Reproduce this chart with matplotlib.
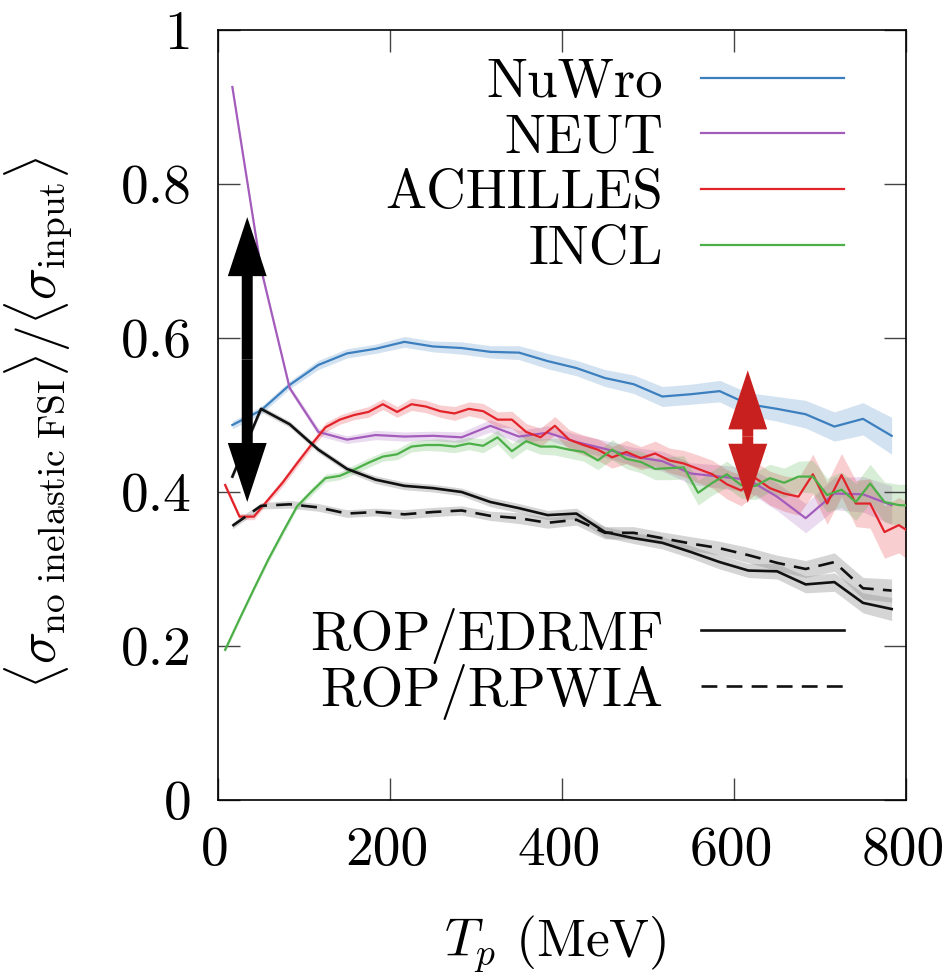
import numpy as np
import matplotlib
matplotlib.use("Agg")
import matplotlib.pyplot as plt
import matplotlib.transforms as mtransforms
from matplotlib.patches import FancyArrowPatch, ArrowStyle

plt.rcParams['font.family'] = ['cmr10', 'DejaVu Serif']
plt.rcParams['mathtext.fontset'] = 'cm'
plt.rcParams['axes.unicode_minus'] = False
plt.rcParams['axes.formatter.use_mathtext'] = True

# ---- data ----
# coarse binning (33.3 MeV bins)
x_coarse = [16.7, 50.0, 83.3, 116.7, 150.0, 183.3, 216.7, 250.0, 283.3, 316.7, 350.0, 383.3,
            416.7, 450.0, 483.3, 516.7, 550.0, 583.3, 616.7, 650.0, 683.3, 716.7, 750.0, 783.3]
# fine binning (16.7 MeV bins)
x_fine = [8.3, 25.0, 41.7, 58.3, 75.0, 91.7, 108.3, 125.0, 141.7, 158.3, 175.0, 191.7,
          208.3, 225.0, 241.7, 258.3, 275.0, 291.7, 308.3, 325.0, 341.7, 358.3, 375.0, 391.7,
          408.3, 425.0, 441.7, 458.3, 475.0, 491.7, 508.3, 525.0, 541.7, 558.3, 575.0, 591.7,
          608.3, 625.0, 641.7, 658.3, 675.0, 691.7, 708.3, 725.0, 741.7, 758.3, 775.0, 791.7, 808.3]

nuwro = [0.487, 0.506, 0.539, 0.565, 0.580, 0.586, 0.595, 0.589, 0.587, 0.582, 0.581, 0.570,
         0.561, 0.548, 0.540, 0.524, 0.527, 0.531, 0.514, 0.508, 0.501, 0.485, 0.495, 0.473]
nuwro_err = [0.005, 0.005, 0.005, 0.006, 0.006, 0.006, 0.007, 0.007, 0.008, 0.008, 0.009, 0.010,
             0.010, 0.011, 0.012, 0.013, 0.013, 0.014, 0.015, 0.016, 0.018, 0.019, 0.021, 0.024]

neut = [0.926, 0.690, 0.535, 0.478, 0.468, 0.474, 0.472, 0.473, 0.471, 0.486, 0.472, 0.477,
        0.465, 0.456, 0.446, 0.440, 0.424, 0.420, 0.416, 0.394, 0.366, 0.398, 0.397, 0.383]
neut_err = [0.003, 0.004, 0.004, 0.005, 0.005, 0.006, 0.006, 0.006, 0.007, 0.008, 0.008, 0.009,
            0.010, 0.011, 0.012, 0.013, 0.014, 0.015, 0.016, 0.018, 0.019, 0.021, 0.023, 0.025]

achilles = [0.409, 0.368, 0.368, 0.390, 0.412, 0.437, 0.461, 0.484, 0.494, 0.500, 0.504, 0.514,
            0.504, 0.514, 0.511, 0.505, 0.502, 0.508, 0.505, 0.494, 0.494, 0.478, 0.471, 0.486,
            0.468, 0.461, 0.455, 0.445, 0.452, 0.444, 0.450, 0.441, 0.437, 0.430, 0.423, 0.410,
            0.402, 0.418, 0.405, 0.398, 0.394, 0.423, 0.385, 0.422, 0.385, 0.385, 0.348, 0.357, 0.345]
achilles_err = [0.004, 0.004, 0.004, 0.004, 0.005, 0.005, 0.005, 0.006, 0.006, 0.006, 0.007, 0.007,
                0.007, 0.008, 0.008, 0.008, 0.009, 0.009, 0.010, 0.010, 0.011, 0.011, 0.012, 0.012,
                0.013, 0.013, 0.014, 0.014, 0.015, 0.015, 0.016, 0.016, 0.017, 0.018, 0.018, 0.019,
                0.020, 0.021, 0.022, 0.023, 0.024, 0.026, 0.027, 0.028, 0.030, 0.032, 0.034, 0.036, 0.038]

incl = [0.195, 0.235, 0.274, 0.312, 0.347, 0.381, 0.400, 0.418, 0.421, 0.429, 0.438, 0.446,
        0.449, 0.459, 0.461, 0.461, 0.459, 0.463, 0.460, 0.471, 0.453, 0.466, 0.459, 0.459,
        0.455, 0.452, 0.441, 0.455, 0.443, 0.439, 0.430, 0.431, 0.432, 0.399, 0.412, 0.423,
        0.409, 0.408, 0.418, 0.412, 0.420, 0.420, 0.396, 0.403, 0.387, 0.411, 0.387, 0.383, 0.382]
incl_err = [0.003, 0.003, 0.003, 0.004, 0.004, 0.004, 0.005, 0.005, 0.005, 0.006, 0.006, 0.006,
            0.007, 0.007, 0.007, 0.008, 0.008, 0.008, 0.009, 0.009, 0.010, 0.010, 0.010, 0.011,
            0.011, 0.012, 0.012, 0.013, 0.013, 0.014, 0.014, 0.015, 0.015, 0.016, 0.016, 0.017,
            0.017, 0.018, 0.018, 0.019, 0.020, 0.021, 0.022, 0.023, 0.024, 0.025, 0.026, 0.027, 0.028]

rop_edrmf = [0.420, 0.508, 0.488, 0.455, 0.430, 0.416, 0.408, 0.405, 0.400, 0.387, 0.379, 0.370,
             0.372, 0.348, 0.340, 0.334, 0.322, 0.309, 0.298, 0.297, 0.280, 0.283, 0.256, 0.248]
rop_edrmf_err = [0.004, 0.004, 0.004, 0.004, 0.004, 0.005, 0.005, 0.005, 0.005, 0.006, 0.006, 0.006,
                 0.007, 0.007, 0.007, 0.008, 0.008, 0.009, 0.009, 0.010, 0.011, 0.012, 0.013, 0.015]

rop_rpwia = [0.356, 0.382, 0.384, 0.380, 0.372, 0.374, 0.371, 0.374, 0.376, 0.369, 0.366, 0.360,
             0.364, 0.347, 0.347, 0.340, 0.333, 0.327, 0.318, 0.308, 0.300, 0.309, 0.275, 0.272]
rop_rpwia_err = [0.004, 0.004, 0.005, 0.005, 0.005, 0.005, 0.006, 0.006, 0.006, 0.006, 0.007, 0.007,
                 0.007, 0.008, 0.008, 0.008, 0.009, 0.009, 0.010, 0.010, 0.011, 0.012, 0.014, 0.015]

labels_models = ["NuWro", "NEUT", "ACHILLES", "INCL"]
labels_rop = ["ROP/EDRMF", "ROP/RPWIA"]
x_ticks = [0, 200, 400, 600, 800]
y_ticks = [0, 0.2, 0.4, 0.6, 0.8, 1.0]
y_ticklabels = ["0", "0.2", "0.4", "0.6", "0.8", "1"]

# arrows (x position, bottom tip, top tip)
black_arrow = (34.0, 0.387, 0.757)
red_arrow = (616.0, 0.386, 0.558)

# ---- styling ----
c_blue = "#3b7fbf"
c_purple = "#a45cbc"
c_red = "#e3232a"
c_green = "#4caf48"
c_black = "#111111"
c_band_black = "#888888"

FS_TICK = 40
FS_LEG = 39.5
FS_LAB = 38.5

fig = plt.figure(figsize=(9.45, 9.72), dpi=100)
ax = fig.add_axes([218/945, 1 - 800/972, (906-218)/945, (800-30)/972])

def band(x, y, e, col, alpha):
    y = np.asarray(y); e = np.asarray(e)
    ax.fill_between(x, y - e, y + e, color=col, alpha=alpha, lw=0, zorder=1)

band(x_coarse, nuwro, nuwro_err, c_blue, 0.22)
band(x_coarse, neut, neut_err, c_purple, 0.22)
band(x_fine, achilles, achilles_err, c_red, 0.22)
band(x_fine, incl, incl_err, c_green, 0.22)
band(x_coarse, rop_edrmf, rop_edrmf_err, c_band_black, 0.35)
band(x_coarse, rop_rpwia, rop_rpwia_err, c_band_black, 0.35)

lw = 1.6
h1, = ax.plot(x_coarse, nuwro, color=c_blue, lw=lw, zorder=3)
h2, = ax.plot(x_coarse, neut, color=c_purple, lw=lw, zorder=3)
h3, = ax.plot(x_fine, achilles, color=c_red, lw=lw, zorder=3)
h4, = ax.plot(x_fine, incl, color=c_green, lw=lw, zorder=3)
h5, = ax.plot(x_coarse, rop_edrmf, color=c_black, lw=1.9, zorder=3)
h6, = ax.plot(x_coarse, rop_rpwia, color=c_black, lw=1.9, ls=(0, (6, 3.5)), zorder=3)

ax.set_xlim(0, 800)
ax.set_ylim(0, 1)
ax.set_xticks(x_ticks)
ax.set_xticklabels([str(t) for t in x_ticks])
ax.set_yticks(y_ticks)
ax.set_yticklabels(y_ticklabels)
ax.tick_params(direction="in", length=16, width=1.0, color="#444444", top=True, right=True,
               labelsize=FS_TICK)
ax.tick_params(axis="x", pad=19)
ax.tick_params(axis="y", pad=19)
shift = mtransforms.ScaledTranslation(-3/100, 0, fig.dpi_scale_trans)
for lab in ax.get_xticklabels():
    lab.set_transform(lab.get_transform() + shift)
for s in ax.spines.values():
    s.set_linewidth(1.2)
    s.set_color("black")

ax.set_xlabel(r"$T_p$ (MeV)", fontsize=FS_LAB)
ax.xaxis.set_label_coords(0.49, -0.147)
ax.set_ylabel(r"$\langle\sigma_{\mathrm{no\ inelastic\ FSI}}\rangle/\langle\sigma_{\mathrm{input}}\rangle$",
              fontsize=FS_LAB)
ax.yaxis.set_label_coords(-0.208, 0.49)

leg1 = ax.legend([h1, h2, h3, h4], labels_models, loc="upper right", bbox_to_anchor=(0.91, 0.963),
                 frameon=False, fontsize=FS_LEG, markerfirst=False, handlelength=2.6,
                 handletextpad=0.7, labelspacing=0.11, borderpad=0, borderaxespad=0)
ax.add_artist(leg1)
leg2 = ax.legend([h5, h6], labels_rop, loc="upper right", bbox_to_anchor=(0.91, 0.25),
                 frameon=False, fontsize=FS_LEG, markerfirst=False, handlelength=2.6,
                 handletextpad=0.7, labelspacing=0.0, borderpad=0, borderaxespad=0)

# arrows: two filled "simple" arrows from the midpoint to each tip
def double_arrow(xpos, ylo, yhi, col):
    ymid = 0.5 * (ylo + yhi)
    st = ArrowStyle.Simple(head_length=42.5, head_width=28, tail_width=7.9)
    for yt in (ylo, yhi):
        p = FancyArrowPatch((xpos, ymid), (xpos, yt), arrowstyle=st, mutation_scale=1,
                            color=col, lw=0, shrinkA=0, shrinkB=0, zorder=6)
        ax.add_patch(p)

double_arrow(*black_arrow, "black")
double_arrow(*red_arrow, "#c8201e")

fig.savefig("out.png", dpi=100)
